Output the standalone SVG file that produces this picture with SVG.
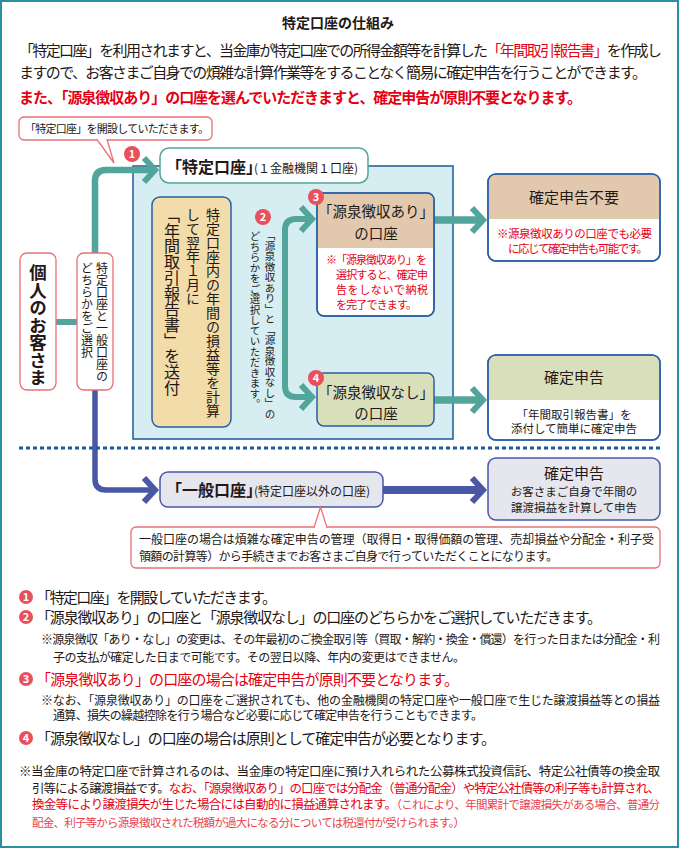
<svg xmlns="http://www.w3.org/2000/svg" width="679" height="848" viewBox="0 0 679 848">
<defs>
<style>
text{font-family:"Noto Sans CJK JP","Noto Sans",sans-serif;fill:#231815}
.red{fill:#e60012}
.red2{fill:#ea3f4f}
.b{font-weight:bold}
.c{text-anchor:middle}
.v{writing-mode:vertical-rl}
.wn{fill:#fff;font-weight:bold;font-size:11px;text-anchor:middle}
.badge{fill:#e8505b}
.pink{fill:#fff;stroke:#e8707a;stroke-width:1.3}
.bluebox{stroke:#2a5fa5;stroke-width:1.5}
.teal{fill:none;stroke:#52a59b}
.blue{fill:none;stroke:#4a57a5}
</style>
<marker id="ahT" markerUnits="userSpaceOnUse" viewBox="-16 -15 22 30" refX="0" refY="0" markerWidth="22" markerHeight="30" orient="auto" overflow="visible"><path d="M-11 -12 L0 0 L-11 12" fill="none" stroke="#52a59b" stroke-width="6"/></marker>
<marker id="ahB" markerUnits="userSpaceOnUse" viewBox="-16 -15 22 30" refX="0" refY="0" markerWidth="22" markerHeight="30" orient="auto" overflow="visible"><path d="M-11 -12 L0 0 L-11 12" fill="none" stroke="#4a57a5" stroke-width="6"/></marker>
</defs>
<rect x="1" y="1" width="677" height="846" fill="#fff" stroke="#2a8fa0" stroke-width="2"/>

<g id="intro">
<text x="338" y="28" class="c b" font-size="14">特定口座の仕組み</text>
<text x="19" y="55.5" font-size="15" textLength="643">「特定口座」を利用されますと、当金庫が特定口座での所得金額等を計算した<tspan class="red">「年間取引報告書」</tspan>を作成し</text>
<text x="19" y="78" font-size="15" textLength="628">ますので、お客さまご自身での煩雑な計算作業等をすることなく簡易に確定申告を行うことができます。</text>
<text x="19" y="102.5" font-size="15" class="red b" textLength="563">また、「源泉徴収あり」の口座を選んでいただきますと、確定申告が原則不要となります。</text>
</g>

<g id="panel">
<rect x="133" y="166" width="320" height="273" fill="#d6eef1" stroke="#1d5a9c" stroke-width="1.5"/>
</g>

<g id="connectors">
<line x1="56" y1="322" x2="77" y2="322" class="teal" stroke-width="6"/>
<path d="M95 253 V181 Q95 170 106 170 H155" class="teal" stroke-width="6.5" marker-end="url(#ahT)"/>
<path d="M285 308 V230 Q285 219 296 219 H312" class="teal" stroke-width="6" marker-end="url(#ahT)"/>
<path d="M285 305 V386 Q285 397 296 397 H312" class="teal" stroke-width="6" marker-end="url(#ahT)"/>
<line x1="434" y1="220" x2="483" y2="220" class="teal" stroke-width="7.5" marker-end="url(#ahT)"/>
<line x1="434" y1="400" x2="483" y2="400" class="teal" stroke-width="7.5" marker-end="url(#ahT)"/>
<path d="M95 390 V479 Q95 490 106 490 H155" class="blue" stroke-width="5.5" marker-end="url(#ahB)"/>
<line x1="383" y1="490" x2="483" y2="490" class="blue" stroke-width="8" marker-end="url(#ahB)"/>
<line x1="19" y1="448" x2="660" y2="448" stroke="#1d5a9c" stroke-width="3" stroke-dasharray="4 3"/>
</g>

<g id="callout-open">
<rect x="19" y="117" width="193" height="23" rx="5" class="pink"/>
<path d="M97 139.5 L114 163 L107 139.5" class="pink"/>
<line x1="98" y1="139.5" x2="106" y2="139.5" stroke="#fff" stroke-width="2"/>
<text x="25" y="133" font-size="11" textLength="184">「特定口座」を開設していただきます。</text>
</g>

<g id="customer">
<rect x="20" y="253" width="36" height="137" rx="7" class="pink"/>
<text x="38" y="264" class="v b" font-size="17.5">個人のお客さま</text>
</g>

<g id="select">
<rect x="77" y="253" width="36" height="137" rx="7" class="pink"/>
<text x="102" y="262" class="v" font-size="12">特定口座と一般口座の</text>
<text x="87" y="262" class="v" font-size="12">どちらかをご選択</text>
</g>

<g id="tokutei">
<rect x="160" y="148" width="208" height="35" rx="9" fill="#fff" stroke="#52a59b" stroke-width="1.5"/>
<text x="166" y="173"><tspan class="b" font-size="16">「特定口座」</tspan><tspan font-size="12" dx="-8">(１金融機関１口座)</tspan></text>
</g>

<g id="report">
<rect x="152" y="197" width="79" height="230" rx="8" fill="#f2dca9" class="bluebox"/>
<text x="213" y="208" class="v" font-size="14">特定口座内の年間の損益等を計算</text>
<text x="193" y="208" class="v" font-size="14">して翌年１月に</text>
<text x="172" y="207" class="v" font-size="16" letter-spacing="-0.3">「年間取引報告書」を送付</text>
</g>

<g id="choice-label">
<text x="270" y="230" class="v" font-size="10.5">「源泉徴収あり」と「源泉徴収なし」の</text>
<text x="255" y="231" class="v" font-size="10.5">どちらかをご選択していただきます。</text>
</g>

<g id="ari">
<rect x="317" y="193" width="117" height="123" rx="7" fill="#fff" class="bluebox"/>
<path d="M317.75 248 V200 Q317.75 193.75 324 193.75 H427 Q433.25 193.75 433.25 200 V248 Z" fill="#e2c9ad"/>
<rect x="317" y="193" width="117" height="123" rx="7" fill="none" class="bluebox"/>
<text x="376" y="217" class="c" font-size="14.5">「源泉徴収あり」</text>
<text x="376" y="239" class="c" font-size="14.5">の口座</text>
<text x="326" y="264" class="red" font-size="11" textLength="101">※「源泉徴収あり」を</text>
<text x="336" y="279" class="red" font-size="11" textLength="92">選択すると、確定申</text>
<text x="336" y="294" class="red" font-size="11" textLength="92">告をしないで納税</text>
<text x="336" y="309" class="red" font-size="11" textLength="81">を完了できます。</text>
</g>

<g id="nashi">
<rect x="317" y="373" width="117" height="53" rx="7" fill="#d9dfba" class="bluebox"/>
<text x="376" y="398" class="c" font-size="14.5">「源泉徴収なし」</text>
<text x="376" y="419" class="c" font-size="14.5">の口座</text>
</g>

<g id="fuyou">
<rect x="488" y="174" width="172" height="87" rx="8" fill="#fff" class="bluebox"/>
<path d="M488.75 219 V182 Q488.75 174.75 496 174.75 H652 Q659.25 174.75 659.25 182 V219 Z" fill="#e2c9ad"/>
<rect x="488" y="174" width="172" height="87" rx="8" fill="none" class="bluebox"/>
<text x="574" y="203" class="c" font-size="15">確定申告不要</text>
<text x="497" y="237.5" class="red" font-size="11.5" textLength="155">※源泉徴収ありの口座でも必要</text>
<text x="508" y="253" class="red" font-size="11.5" textLength="140">に応じて確定申告も可能です。</text>
</g>

<g id="shinkoku">
<rect x="488" y="355" width="172" height="85" rx="8" fill="#fff" class="bluebox"/>
<path d="M488.75 400 V363 Q488.75 355.75 496 355.75 H652 Q659.25 355.75 659.25 363 V400 Z" fill="#d9dfba"/>
<rect x="488" y="355" width="172" height="85" rx="8" fill="none" class="bluebox"/>
<text x="574" y="383" class="c" font-size="15">確定申告</text>
<text x="574" y="418.5" class="c" font-size="11.5">「年間取引報告書」を</text>
<text x="574" y="433" class="c" font-size="11.5">添付して簡単に確定申告</text>
</g>

<g id="ippan">
<rect x="160" y="472" width="223" height="35" rx="8" fill="#e5e6ee" stroke="#4a57a5" stroke-width="1.5"/>
<text x="166" y="496"><tspan class="b" font-size="16">「一般口座」</tspan><tspan font-size="12" dx="-8">(特定口座以外の口座)</tspan></text>
</g>

<g id="shinkoku-ippan">
<rect x="488" y="458" width="172" height="62" rx="8" fill="#e5e6ee" stroke="#4a57a5" stroke-width="1.5"/>
<text x="574" y="479" class="c" font-size="15">確定申告</text>
<text x="574" y="496" class="c" font-size="11.5">お客さまご自身で年間の</text>
<text x="574" y="512" class="c" font-size="11.5">譲渡損益を計算して申告</text>
</g>

<g id="note-ippan">
<rect x="131" y="527" width="529" height="41" rx="5" class="pink"/>
<path d="M314 527.6 L320.5 507 L327 527.6" class="pink"/>
<line x1="315" y1="527.6" x2="326" y2="527.6" stroke="#fff" stroke-width="2"/>
<text x="139" y="543.5" font-size="12" textLength="515">一般口座の場合は煩雑な確定申告の管理（取得日・取得価額の管理、売却損益や分配金・利子受</text>
<text x="139" y="561" font-size="12" textLength="419">領額の計算等）から手続きまでお客さまご自身で行っていただくことになります。</text>
</g>

<g id="badges">
<circle cx="132" cy="154" r="8" class="badge"/><text x="132" y="158" class="wn">1</text>
<circle cx="263" cy="217" r="8" class="badge"/><text x="263" y="221" class="wn">2</text>
<circle cx="316" cy="197" r="8" class="badge"/><text x="316" y="201" class="wn">3</text>
<circle cx="316" cy="378" r="8" class="badge"/><text x="316" y="382" class="wn">4</text>
</g>

<g id="explanations">
<circle cx="26" cy="597" r="7" class="badge"/><text x="26" y="601" class="wn" font-size="10">1</text>
<text x="36" y="602.5" font-size="15" textLength="241">「特定口座」を開設していただきます。</text>
<circle cx="26" cy="617" r="7" class="badge"/><text x="26" y="621" class="wn" font-size="10">2</text>
<text x="36" y="622.5" font-size="15" textLength="566">「源泉徴収あり」の口座と「源泉徴収なし」の口座のどちらかをご選択していただきます。</text>
<text x="41" y="644" font-size="12" textLength="619">※源泉徴収「あり・なし」の変更は、その年最初のご換金取引等（買取・解約・換金・償還）を行った日または分配金・利</text>
<text x="53" y="661.5" font-size="12" textLength="412">子の支払が確定した日まで可能です。その翌日以降、年内の変更はできません。</text>
<circle cx="26" cy="679" r="7" class="badge"/><text x="26" y="683" class="wn" font-size="10">3</text>
<text x="36" y="684.5" font-size="15" class="red" textLength="423">「源泉徴収あり」の口座の場合は確定申告が原則不要となります。</text>
<text x="41" y="704.5" font-size="12" textLength="619">※なお、「源泉徴収あり」の口座をご選択されても、他の金融機関の特定口座や一般口座で生じた譲渡損益等との損益</text>
<text x="53" y="720" font-size="12" textLength="430">通算、損失の繰越控除を行う場合など必要に応じて確定申告を行うこともできます。</text>
<circle cx="26" cy="738" r="7" class="badge"/><text x="26" y="742" class="wn" font-size="10">4</text>
<text x="36" y="743.5" font-size="15" textLength="460">「源泉徴収なし」の口座の場合は原則として確定申告が必要となります。</text>
</g>

<g id="footnote">
<text x="19" y="775.5" font-size="12.5" textLength="641">※当金庫の特定口座で計算されるのは、当金庫の特定口座に預け入れられた公募株式投資信託、特定公社債等の換金取</text>
<text x="32" y="792.5" font-size="12.5" textLength="628">引等による譲渡損益です。<tspan class="red">なお、「源泉徴収あり」の口座では分配金（普通分配金）や特定公社債等の利子等も計算され、</tspan></text>
<text x="32" y="809" font-size="12.5" textLength="628"><tspan class="red">換金等により譲渡損失が生じた場合には自動的に損益通算されます。</tspan><tspan class="red2" font-size="11.5">（これにより、年間累計で譲渡損失がある場合、普通分</tspan></text>
<text x="32" y="826.5" font-size="11.5" class="red2" textLength="433">配金、利子等から源泉徴収された税額が過大になる分については税還付が受けられます。）</text>
</g>
</svg>
